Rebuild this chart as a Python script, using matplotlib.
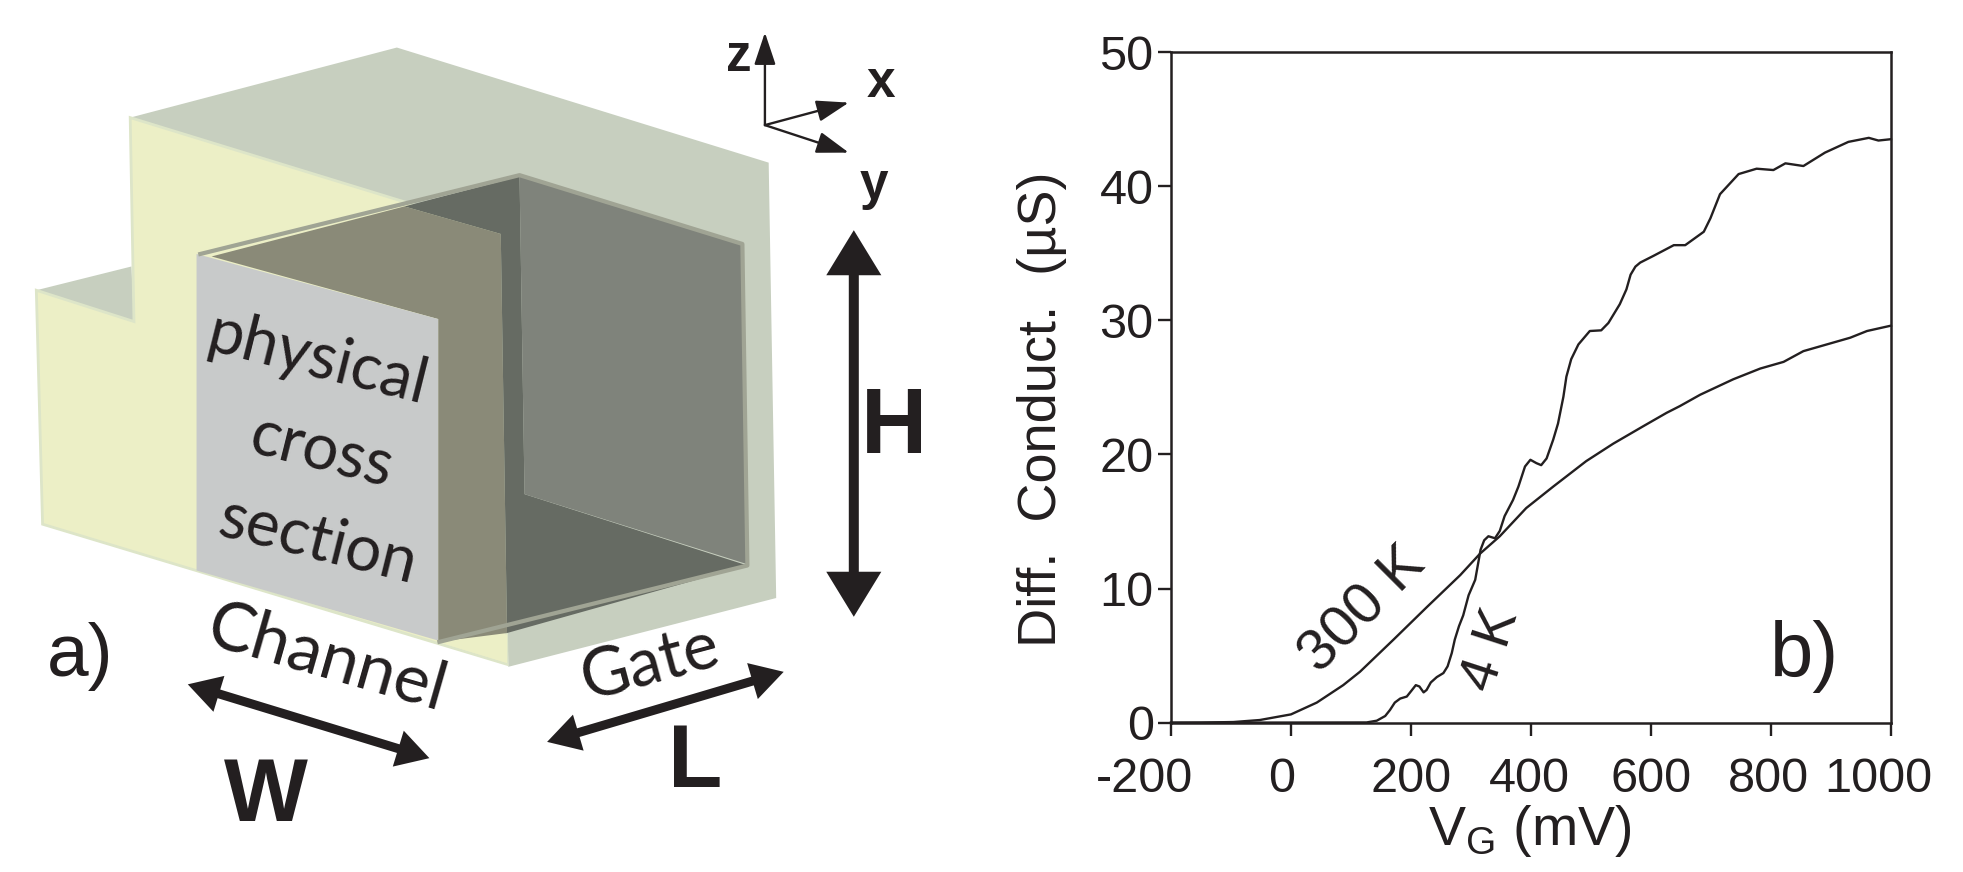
import numpy as np
import matplotlib
matplotlib.use('Agg')
import matplotlib.pyplot as plt
from matplotlib.patches import Polygon, FancyArrowPatch
from matplotlib.transforms import ScaledTranslation

plt.rcParams['font.family'] = ['Liberation Sans', 'DejaVu Sans']

# Curves
x_300k = [-200, -150, -96, -52, 0, 43, 87, 115, 171, 226, 282, 315, 348, 392, 437, 492, 537, 587, 626, 648,
          682, 737, 782, 821, 854, 893, 932, 960, 1000]
y_300k = [0, 0.01, 0.05, 0.2, 0.62, 1.5, 2.8, 3.8, 6.2, 8.6, 11.0, 12.6, 13.9, 16.0, 17.6, 19.5, 20.8, 22.1, 23.1, 23.6,
          24.45, 25.6, 26.4, 26.9, 27.7, 28.2, 28.7, 29.2, 29.6]
x_4k = [-200, 126, 143, 157, 165, 173, 182, 193, 201, 208, 214, 221, 226, 233, 243, 254, 261, 268, 273, 280,
        287, 296, 307, 312, 316, 322, 329, 340, 348, 356, 370, 379, 390, 399, 409, 417, 426, 437, 445, 454,
        459, 467, 479, 498, 517, 529, 548, 559, 566, 574, 582, 604, 638, 657, 688, 699, 715, 746, 776, 804,
        824, 854, 890, 929, 963, 979, 1000]
y_4k = [0, 0.02, 0.15, 0.5, 0.95, 1.5, 1.8, 1.95, 2.4, 2.8, 2.7, 2.26, 2.44, 3.0, 3.4, 3.7, 4.2, 5.2, 6.2, 7.2,
        8.0, 9.5, 10.65, 11.9, 12.9, 13.6, 13.9, 13.75, 14.3, 15.4, 16.6, 17.6, 19.1, 19.6, 19.35, 19.2, 19.7, 21.1, 22.3, 24.3,
        25.8, 27.1, 28.2, 29.2, 29.25, 29.8, 31.2, 32.3, 33.4, 34.0, 34.3, 34.8, 35.6, 35.6, 36.6, 37.6, 39.4, 40.9, 41.3, 41.2,
        41.7, 41.5, 42.5, 43.3, 43.6, 43.4, 43.5]
x_ticks = [-200, 0, 200, 400, 600, 800, 1000]
x_tick_labels = ['-200', '0', '200', '400', '600', '800', '1000']
y_ticks = [0, 10, 20, 30, 40, 50]

# Schematic faces of panel a, in overlay units
top_face = [(104, 94), (317, 38), (614, 130), (620, 478), (406, 533), (400, 186)]
step_face = [(29, 232), (105, 213), (107, 257)]
side_face = [(29, 232), (107, 257), (104, 94), (400, 185), (405, 531), (34, 419)]
section_face = [(157, 203), (350, 255), (350, 512), (157, 456)]
olive_face = [(169, 205), (323, 165), (400, 187), (405, 506), (350, 513), (350, 255)]
dark_face = [(323, 165), (415, 141), (419, 395), (597, 452), (405, 506), (400, 187)]
back_wall = [(415, 141), (593, 196), (597, 451), (419, 395)]
yellow_strip = [(350, 513), (405, 530), (405, 507)]
rim = [(160, 203), (415, 140), (593, 195), (597, 452), (351, 513)]

ink = '#231f20'

fig = plt.figure(figsize=(19.63, 8.72), dpi=100)

# Panel b
ax = fig.add_axes([1171 / 1963, 1 - 722.7 / 872, 720 / 1963, 670.7 / 872])
ax.plot(x_300k, y_300k, color=ink, lw=1.7, solid_joinstyle='round', clip_on=False)
ax.plot(x_4k, y_4k, color=ink, lw=1.7, solid_joinstyle='round', clip_on=False)
ax.set_xlim(-200, 1000)
ax.set_ylim(0, 50)
ax.set_xticks(x_ticks)
ax.set_xticklabels(x_tick_labels)
ax.set_yticks(y_ticks)
ax.tick_params(length=9.5, width=1.7, color=ink, labelcolor=ink, labelsize=35)
ax.tick_params(axis='x', pad=15)
ax.tick_params(axis='y', pad=3)
for s in ax.spines.values():
    s.set_linewidth(1.8)
    s.set_color(ink)

# The tick labels sit a little left of their ticks in the original
for lab, shift in zip(ax.get_xticklabels(), [-19, -7, 0, -1, 0, -2, -9]):
    lab.set_transform(lab.get_transform() + ScaledTranslation(shift / 72, 0, fig.dpi_scale_trans))

ax.text(120, 8.4, '300 K', fontsize=42, rotation=45, ha='center', va='center', color=ink)
ax.text(335, 5.4, '4 K', fontsize=40, rotation=72, ha='center', va='center', color=ink)
ax.text(856, 4.9, 'b)', fontsize=56, ha='center', va='center', color=ink)

# Panel a, drawn on a full figure overlay
ov = fig.add_axes([0, 0, 1, 1], zorder=-1)
ov.set_xlim(0, 1568)
ov.set_ylim(697, 0)
ov.axis('off')

ov.add_patch(Polygon(top_face, fc='#c7cfbf', ec='none'))
ov.add_patch(Polygon(step_face, fc='#c7cfbf', ec='none'))
ov.add_patch(Polygon(side_face, fc='#ecefc6', ec='#dde5c8', lw=2))
ov.add_patch(Polygon(yellow_strip, fc='#ecefc6', ec='none'))
ov.add_patch(Polygon(olive_face, fc='#8a8a78', ec='none'))
ov.add_patch(Polygon(dark_face, fc='#666b63', ec='none'))
ov.add_patch(Polygon(back_wall, fc='#7f837b', ec='none'))
ov.add_patch(Polygon(section_face, fc='#c8caca', ec='none'))
ov.plot([p[0] for p in rim], [p[1] for p in rim], color='#a0a494', lw=3)


def double_arrow(p0, p1, w=3.6, hw=17, hl=30):
    p0 = np.array(p0, float)
    p1 = np.array(p1, float)
    d = (p1 - p0) / np.hypot(*(p1 - p0))
    n = np.array([-d[1], d[0]])
    pts = [p0, p0 + d * hl + n * hw, p0 + d * hl + n * w, p1 - d * hl + n * w, p1 - d * hl + n * hw, p1,
           p1 - d * hl - n * hw, p1 - d * hl - n * w, p0 + d * hl - n * w, p0 + d * hl - n * hw]
    ov.add_patch(Polygon(pts, fc=ink, ec='none'))


double_arrow((682, 184), (682, 493), w=4, hw=22, hl=36)
double_arrow((150, 547), (343, 606), hw=15, hl=26)
double_arrow((437, 593), (626, 537), hw=15, hl=26)

# Small coordinate axes
for end in [(611, 26), (678, 82), (678, 122)]:
    ov.add_patch(FancyArrowPatch((611, 100), end, arrowstyle='-|>,head_length=0.9,head_width=0.3',
                                 mutation_scale=22, lw=1.7, color=ink, shrinkA=0, shrinkB=0))

ov.text(590, 46, 'z', fontsize=37, fontweight='bold', ha='center', va='center', color=ink)
ov.text(704, 67, 'x', fontsize=37, fontweight='bold', ha='center', va='center', color=ink)
ov.text(698, 148, 'y', fontsize=37, fontweight='bold', ha='center', va='center', color=ink)
ov.text(714, 343, 'H', fontsize=66, fontweight='bold', ha='center', va='center', color=ink)
ov.text(212, 638, 'W', fontsize=64, fontweight='bold', ha='center', va='center', color=ink)
ov.text(555, 611, 'L', fontsize=64, fontweight='bold', ha='center', va='center', color=ink)
ov.text(64, 525, 'a)', fontsize=54, ha='center', va='center', color=ink)

# Axis titles placed on the overlay so they can leave the axes centre
ov.text(832, 327, 'Diff.  Conduct.  (\u00b5S)', fontsize=39, rotation=90, ha='center', va='center', color=ink)
ov.text(1222, 664, 'V$_{\\mathregular{G}}$ (mV)', fontsize=40, ha='center', va='center', color=ink)

humanist = ['Lato', 'DejaVu Sans']
ov.text(254, 288, 'physical', fontsize=46, rotation=-14, ha='center', va='center', color=ink, family=humanist)
ov.text(257, 362, 'cross', fontsize=46, rotation=-14, ha='center', va='center', color=ink, family=humanist)
ov.text(254, 433, 'section', fontsize=46, rotation=-14, ha='center', va='center', color=ink, family=humanist)
ov.text(261, 527, 'Channel', fontsize=49, rotation=-16, ha='center', va='center', color=ink, family=humanist)
ov.text(520, 531, 'Gate', fontsize=48, rotation=15, ha='center', va='center', color=ink, family=humanist)

fig.savefig('out.png', dpi=100)
